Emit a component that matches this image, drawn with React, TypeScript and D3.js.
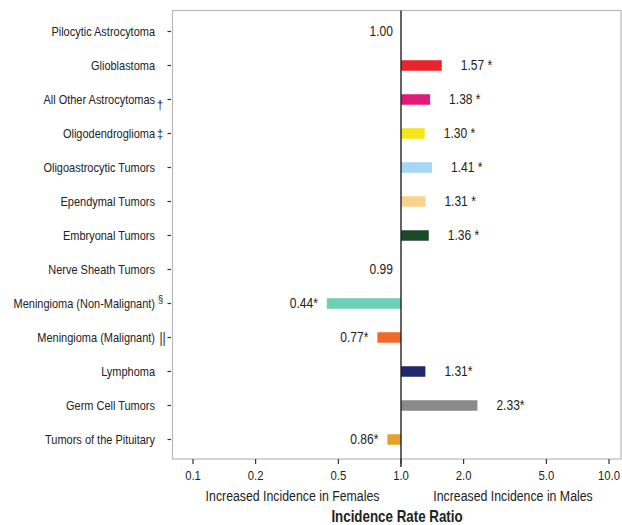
import React from "react";
import * as d3 from "d3";

const categories = [
  "Pilocytic Astrocytoma",
  "Glioblastoma",
  "All Other Astrocytomas",
  "Oligodendroglioma",
  "Oligoastrocytic Tumors",
  "Ependymal Tumors",
  "Embryonal Tumors",
  "Nerve Sheath Tumors",
  "Meningioma (Non-Malignant)",
  "Meningioma (Malignant)",
  "Lymphoma",
  "Germ Cell Tumors",
  "Tumors of the Pituitary",
];
const footnotes = ["", "", "†", "‡", "", "", "", "", "§", "||", "", "", ""];
const ratios = [1.0, 1.57, 1.38, 1.3, 1.41, 1.31, 1.36, 0.99, 0.44, 0.77, 1.31, 2.33, 0.86];
const valueLabels = ["1.00", "1.57 *", "1.38 *", "1.30 *", "1.41 *", "1.31 *", "1.36 *", "0.99", "0.44*", "0.77*", "1.31*", "2.33*", "0.86*"];
const significant = [false, true, true, true, true, true, true, false, true, true, true, true, true];
const colors = ["none", "#e8252a", "#e01a78", "#f4e61a", "#a5d7f1", "#f8d38e", "#1b4a28", "none", "#6ccfb6", "#f0692a", "#1f2868", "#8a8a8a", "#e2a22c"];
const tickValues = [0.1, 0.2, 0.5, 1.0, 2.0, 5.0, 10.0];
const tickLabels = ["0.1", "0.2", "0.5", "1.0", "2.0", "5.0", "10.0"];

const FONT = '"Liberation Sans", Arial, sans-serif';

function T(props: {
  x: number; y: number; size: number; sx?: number; anchor?: string; weight?: string; dy?: string; children: React.ReactNode;
}) {
  const { x, y, size, sx = 0.85, anchor = "start", weight = "normal", dy = "0.35em", children } = props;
  return (
    <text
      transform={`translate(${x},${y}) scale(${sx},1)`}
      dy={dy}
      textAnchor={anchor}
      fontSize={size}
      fontWeight={weight}
      fill="#222"
    >
      {children}
    </text>
  );
}

export default function App() {
  const W = 622, H = 525;
  const panel = { left: 172.5, right: 621, top: 10.5, bottom: 459 };
  const x = d3.scaleLog().domain([0.1, 10]).range([193, 609]);
  const y = d3.scalePoint<string>().domain(categories).range([31.5, 439.5]);
  const barH = 10.5;
  const x1 = x(1);

  return (
    <svg width={W} height={H} style={{ position: "absolute", left: 0, top: 0, background: "#fff" }} fontFamily={FONT}>
      {/* panel border */}
      <rect x={panel.left} y={panel.top} width={panel.right - panel.left} height={panel.bottom - panel.top} fill="none" stroke="#b8b8b8" strokeWidth={1.2} />

      {/* bars */}
      {categories.map((c, i) => {
        const v = ratios[i];
        const cy = y(c)!;
        if (!significant[i]) return null;
        const xa = Math.min(x(v), x1);
        const xb = Math.max(x(v), x1);
        return <rect key={"b" + i} x={xa} y={cy - barH / 2} width={xb - xa} height={barH} fill={colors[i]} />;
      })}

      {/* reference line at 1.0 */}
      <line x1={x1} x2={x1} y1={panel.top} y2={467} stroke="#222" strokeWidth={1.4} />

      {/* value labels */}
      {categories.map((c, i) => {
        const v = ratios[i];
        const cy = y(c)!;
        let tx: number, anchor: string;
        if (!significant[i]) {
          tx = x1 - 8;
          anchor = "end";
        } else if (v > 1) {
          tx = x(v) + 19;
          anchor = "start";
        } else {
          tx = x(v) - 9;
          anchor = "end";
        }
        return (
          <T key={"v" + i} x={tx} y={cy} size={14} sx={0.86} anchor={anchor}>
            {valueLabels[i]}
          </T>
        );
      })}

      {/* left axis */}
      {categories.map((c, i) => {
        const cy = y(c)!;
        return (
          <g key={"l" + i}>
            <line x1={167.5} x2={171} y1={cy} y2={cy} stroke="#333" strokeWidth={1.2} />
            <T x={155} y={cy} size={13} sx={0.845} anchor="end">
              {c}
            </T>
            {footnotes[i] === "†" && (
              <T x={157} y={cy + 5} size={13} sx={0.85}>†</T>
            )}
            {footnotes[i] === "‡" && (
              <T x={157} y={cy} size={13} sx={0.85}>‡</T>
            )}
            {footnotes[i] === "§" && (
              <T x={158} y={cy - 4} size={11} sx={0.85}>§</T>
            )}
            {footnotes[i] === "||" && (
              <T x={159.5} y={cy + 1} size={14} sx={0.85}>||</T>
            )}
          </g>
        );
      })}

      {/* bottom axis */}
      {tickValues.map((t, i) => (
        <g key={"t" + i}>
          <line x1={x(t)} x2={x(t)} y1={panel.bottom} y2={464} stroke="#333" strokeWidth={1.2} />
          <T x={x(t)} y={475.5} size={13} sx={0.87} anchor="middle">
            {tickLabels[i]}
          </T>
        </g>
      ))}

      <T x={292.5} y={495.5} size={14.5} sx={0.85} anchor="middle">Increased Incidence in Females</T>
      <T x={513} y={495.5} size={14.5} sx={0.85} anchor="middle">Increased Incidence in Males</T>
      <T x={397} y={516} size={16} sx={0.835} anchor="middle" weight="bold">Incidence Rate Ratio</T>
    </svg>
  );
}
